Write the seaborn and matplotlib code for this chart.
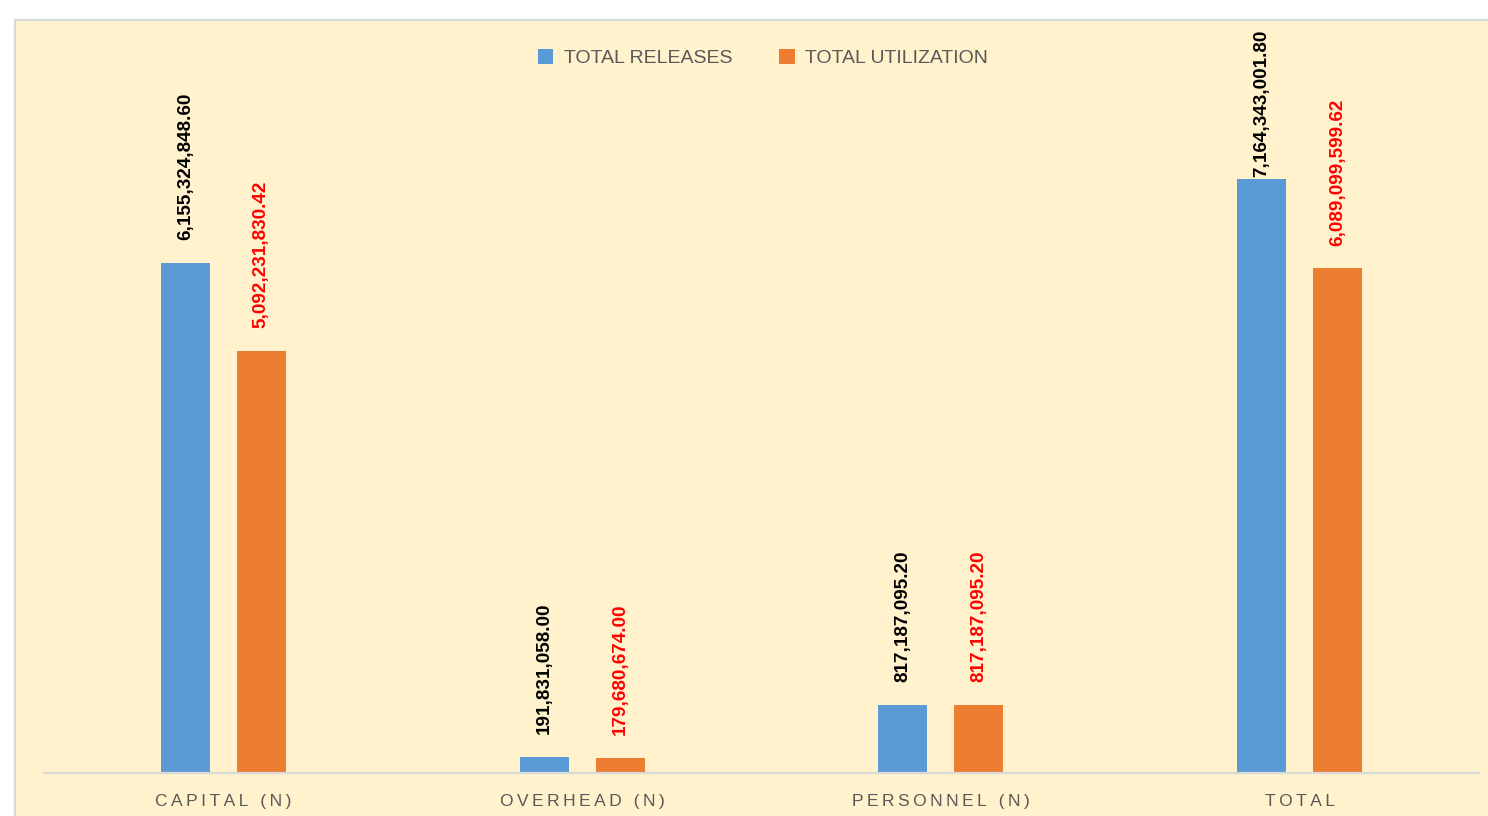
import matplotlib
matplotlib.use("Agg")
import matplotlib.pyplot as plt
from matplotlib.patches import Rectangle, Patch
import seaborn as sns
import pandas as pd

categories = ["CAPITAL (N)", "OVERHEAD (N)", "PERSONNEL (N)", "TOTAL"]
total_releases = [6155324848.60, 191831058.00, 817187095.20, 7164343001.80]
total_utilization = [5092231830.42, 179680674.00, 817187095.20, 6089099599.62]
series_names = ["TOTAL RELEASES", "TOTAL UTILIZATION"]
series_colors = ["#5B9BD5", "#ED7D31"]
label_colors = ["#000000", "#FF0000"]

df = pd.DataFrame({
    "category": categories * 2,
    "series": [series_names[0]] * 4 + [series_names[1]] * 4,
    "value": total_releases + total_utilization,
})

sns.set_theme(style="white")
plt.rcParams["font.family"] = ["Liberation Sans", "DejaVu Sans"]

W, H = 1488, 816
DPI = 100
fig = plt.figure(figsize=(W / DPI, H / DPI), dpi=DPI)
fig.patch.set_facecolor("white")

# chart area panel with light border, behind the axes
panel = Rectangle((15 / W, -0.05), 1.1, 1 - 20 / H + 0.05, transform=fig.transFigure,
                  facecolor="#FFF2CC", edgecolor="#D9D9D9", linewidth=1.6, zorder=-10)
fig.patches.append(panel)

ax = fig.add_axes([44 / W, 1 - 773 / H, (1479 - 44) / W, (773 - 27.3) / H])
ax.set_facecolor("none")

sns.barplot(data=df, x="category", y="value", hue="series", order=categories,
            hue_order=series_names, palette=series_colors, width=0.4234, gap=0.355,
            errorbar=None, ax=ax, legend=False, saturation=1, linewidth=0)

ax.set_ylim(0, 9e9)
ax.set_xlim(-0.5, 3.5)
ax.set_xlabel("")
ax.set_ylabel("")
ax.set_yticks([])
for s in ["top", "left", "right"]:
    ax.spines[s].set_visible(False)
ax.spines["bottom"].set_color("#D9D9D9")
ax.spines["bottom"].set_linewidth(1.6)

spaced = ["\u2009".join(list(c)) for c in categories]
ax.set_xticks(range(len(categories)))
ax.set_xticklabels(spaced, color="#595959", fontsize=12.5)
ax.tick_params(axis="x", length=0, pad=15)

series_values = [total_releases, total_utilization]
labels = []
for container, vals, col in zip(ax.containers, series_values, label_colors):
    for bar, v in zip(container, vals):
        t = ax.annotate(f"{v:,.2f}", (bar.get_x() + bar.get_width() / 2, v),
                        xytext=(0, 16.5), textcoords="offset points", rotation=90,
                        ha="center", va="bottom", fontsize=13.6, fontweight="bold",
                        color=col)
        labels.append(t)

# keep value labels inside the chart area: pull down any that run past the top
fig.canvas.draw()
renderer = fig.canvas.get_renderer()
limit = H - 30
for t in labels:
    bb = t.get_window_extent(renderer)
    if bb.y1 > limit:
        dx, dy = t.xyann
        t.xyann = (dx, dy - (bb.y1 - limit) * 72 / DPI)

handles = [Patch(facecolor=c, edgecolor="none", label=n)
           for c, n in zip(series_colors, series_names)]
fig.legend(handles=handles, loc="center", bbox_to_anchor=(763 / W, 1 - 58 / H),
           ncol=2, frameon=False, handlelength=0.8, handleheight=0.8,
           handletextpad=0.55, columnspacing=2.4,
           prop={"size": 14}, labelcolor="#595959")

fig.savefig("out.png", dpi=DPI, facecolor="white")
